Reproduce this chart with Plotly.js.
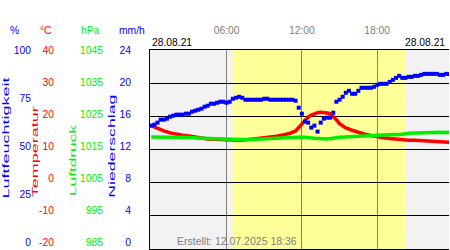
<!DOCTYPE html>
<html>
<head>
<meta charset="utf-8">
<script src="https://cdn.plot.ly/plotly-3.0.1.min.js"></script>
<style>
html,body{margin:0;padding:0;background:#fff;}
#chart{width:450px;height:250px;}
</style>
</head>
<body>
<div id="chart"></div>
<script>
// ---------- data ----------
const dateLabel = "28.08.21";
const createdLabel = "Erstellt: 12.07.2025 18:36";
const hourTicks = [6, 12, 18];
const hourTickText = ["06:00", "12:00", "18:00"];
const sunrise = 6.48;   // 06:29
const sunset = 20.29;   // 20:17

// relative humidity (%), sampled every 15 minutes from 00:00
const humidity = [
  62, 62.5, 63.5, 65, 65, 65.5, 66.5, 67, 67.5, 67.5, 67.5, 68,
  68, 69, 69.5, 70, 70.5, 71.5, 72, 73, 73, 73.5, 74, 74,
  73.5, 74, 75.5, 76, 76.5, 76, 75, 75, 75, 75, 75, 75,
  75.5, 75.5, 75, 75, 75, 75, 75, 75, 75, 75, 74.5, 71,
  68, 64, 63.5, 61, 62, 59, 63.5, 65.5, 66, 66, 68.5, 74,
  75, 76.5, 78.5, 79.5, 78, 78, 79.5, 81, 81, 81, 81, 81.5,
  82.5, 83, 83, 83, 84, 85, 86, 87, 86, 86, 86.5, 86.5,
  87, 87, 87.5, 88, 88, 88, 88, 88, 87.5, 87.5, 88, 88
];
const humidityTimes = humidity.map((_, i) => i * 0.25);

// temperature (°C)
const tempTimes = [0, 0.5, 1, 1.5, 2, 2.5, 3, 3.5, 4, 4.5, 5, 5.5, 6, 6.5, 7, 7.5, 8, 8.5, 9, 9.5, 10, 10.5, 11, 11.5, 11.75,
  12, 12.25, 12.5, 12.75, 13, 13.25, 13.5, 13.75, 14, 14.25, 14.5, 14.75, 15, 15.25, 15.5, 16, 16.5, 17, 17.5, 18, 18.5,
  19, 19.5, 20, 20.5, 21, 21.5, 22, 22.5, 23, 23.75];
const temperature = [17.2, 16.3, 15.6, 15, 14.6, 14.3, 14.1, 13.8, 13.3, 13.2, 13.1, 13, 12.9, 12.8, 12.8, 12.9, 13.1, 13.2, 13.4, 13.7, 14, 14.4, 14.8, 15.6, 16.6,
  17.8, 18.8, 19.8, 20.4, 20.8, 21.1, 21.2, 21.2, 21, 20.8, 20, 19, 17.8, 17, 16.5, 15.8, 15.1, 14.6, 14.2, 13.8, 13.5,
  13.3, 13.1, 12.9, 12.8, 12.8, 12.7, 12.6, 12.4, 12.3, 12.2];

// air pressure (hPa)
const pressTimes = [0, 1, 2, 3, 4, 5, 6, 7, 8, 9, 10, 11, 12, 13, 14, 15, 16, 17, 18, 19, 20, 20.5, 21, 22, 23, 23.75];
const pressure = [1018.8, 1018.8, 1018.7, 1018.6, 1018.4, 1018.2, 1018.1, 1018.0, 1018.0, 1018.2, 1018.5, 1018.7, 1018.8,
  1018.4, 1018.2, 1018.7, 1019.0, 1019.1, 1019.3, 1019.4, 1019.6, 1019.9, 1020.0, 1020.2, 1020.2, 1020.1];

// axis tick labels
const humTicks = [0, 25, 50, 75, 100];
const tempTicks = [-20, -10, 0, 10, 20, 30, 40];
const pressTicks = [985, 995, 1005, 1015, 1025, 1035, 1045];
const precipTicks = [0, 4, 8, 12, 16, 20, 24];

// ---------- styling ----------
const BLUE = "#0000ff", RED = "#ff0000", GREEN = "#00ee00", GRAY = "#808080";
const FONT = "Liberation Sans, Arial, sans-serif";
const W = 449, H = 199, TOP = 50;
const plotLeft = 150 / W;
const squash = 7 / 193; // tick labels span a slightly shorter height than the grid
const py = px => (TOP + H - px) / H;   // pixel row -> paper y
const pxx = px => px / W;              // pixel column -> paper x

function labelRange(t) {
  const lo = Math.min(...t), hi = Math.max(...t);
  return [lo - (hi - lo) * squash, hi];
}
function labelAxis(ticks, color, pos) {
  return {
    overlaying: "y", anchor: "free", position: pos, side: "left",
    range: labelRange(ticks), tickvals: ticks, ticktext: ticks.map(String),
    showgrid: false, zeroline: false, showline: false, ticks: "",
    tickfont: {family: FONT, size: 10.3, color: color}, fixedrange: true
  };
}
function note(text, x, y, color, opts) {
  return Object.assign({text: text, xref: "paper", yref: "paper", x: x, y: y,
    xanchor: "center", yanchor: "middle", showarrow: false,
    font: {family: FONT, size: 10.3, color: color}}, opts || {});
}

const data = [
  {x: pressTimes, y: pressure, yaxis: "y3", mode: "lines", line: {color: GREEN, width: 3.5}, hoverinfo: "skip"},
  {x: tempTimes, y: temperature, yaxis: "y", mode: "lines", line: {color: RED, width: 3.5}, hoverinfo: "skip"},
  {x: humidityTimes, y: humidity, yaxis: "y2", mode: "markers", marker: {color: BLUE, size: 4, symbol: "square", line: {width: 0}}, hoverinfo: "skip"},
  {x: [], y: [], yaxis: "y4", hoverinfo: "skip"},
  {x: [], y: [], yaxis: "y5", hoverinfo: "skip"},
  {x: [], y: [], yaxis: "y6", hoverinfo: "skip"},
  {x: [], y: [], yaxis: "y7", hoverinfo: "skip"}
];

const layout = {
  width: 450, height: 250,
  margin: {l: 0, r: 1, t: TOP, b: 1},
  paper_bgcolor: "#ffffff",
  plot_bgcolor: "#f2f2f2",
  showlegend: false,
  font: {family: FONT},
  xaxis: {
    domain: [plotLeft, 1], range: [-0.1, 23.72], side: "top",
    tickvals: hourTicks, ticktext: hourTickText,
    showgrid: true, gridcolor: GRAY, gridwidth: 1,
    zeroline: false, showline: true, mirror: true, linecolor: "#000", linewidth: 1,
    ticks: "outside", ticklen: 11, tickcolor: "rgba(0,0,0,0)",
    tickfont: {family: FONT, size: 10.3, color: GRAY}, fixedrange: true
  },
  yaxis: {
    range: [-20, 40], dtick: 10, showticklabels: false, ticks: "",
    showgrid: true, gridcolor: "#000", gridwidth: 1, zeroline: false,
    showline: true, linecolor: "#000", linewidth: 1, fixedrange: true
  },
  yaxis2: {overlaying: "y", range: [0, 100], visible: false, fixedrange: true},
  yaxis3: {overlaying: "y", range: [985, 1045], visible: false, fixedrange: true},
  yaxis4: labelAxis(humTicks, BLUE, 31 / W),
  yaxis5: labelAxis(tempTicks, RED, 54 / W),
  yaxis6: labelAxis(pressTicks, GREEN, 103 / W),
  yaxis7: labelAxis(precipTicks, BLUE, 131 / W),
  shapes: [
    {type: "rect", xref: "x", yref: "paper", x0: sunrise, x1: sunset, y0: 0, y1: 1,
     fillcolor: "#ffff99", line: {width: 0}, layer: "below"}
  ],
  annotations: [
    note("%", pxx(14), py(31), BLUE),
    note("°C", pxx(46), py(31), RED),
    note("hPa", pxx(90), py(31), GREEN),
    note("mm/h", pxx(132), py(31), BLUE),
    note("Luftfeuchtigkeit", pxx(5), py(137.5), BLUE, {textangle: -90, font: {family: FONT, size: 8.5, color: BLUE}}),
    note("Temperatur", pxx(35), py(152.3), RED, {textangle: -90, font: {family: FONT, size: 8.5, color: RED}}),
    note("Luftdruck", pxx(72.5), py(160.5), GREEN, {textangle: -90, font: {family: FONT, size: 8.5, color: GREEN}}),
    note("Niederschlag", pxx(111.5), py(146.5), BLUE, {textangle: -90, font: {family: FONT, size: 8.5, color: BLUE}}),
    note(dateLabel, plotLeft, py(43), "#000", {xanchor: "left"}),
    note(dateLabel, pxx(447), py(43), "#000", {xanchor: "right"}),
    note(createdLabel, pxx(175), py(240.5), GRAY, {xanchor: "left", font: {family: FONT, size: 10.5, color: GRAY}})
  ]
};

Plotly.newPlot("chart", data, layout, {staticPlot: true, displayModeBar: false}).then(gd => {
  const lens = {"Luftfeuchtigkeit": 121, "Temperatur": 91, "Luftdruck": 71, "Niederschlag": 103};
  gd.querySelectorAll(".annotation-text").forEach(t => {
    const L = lens[t.textContent];
    if (L) {
      t.setAttribute("textLength", L);
      t.setAttribute("lengthAdjust", "spacingAndGlyphs");
    }
  });
});
</script>
</body>
</html>
